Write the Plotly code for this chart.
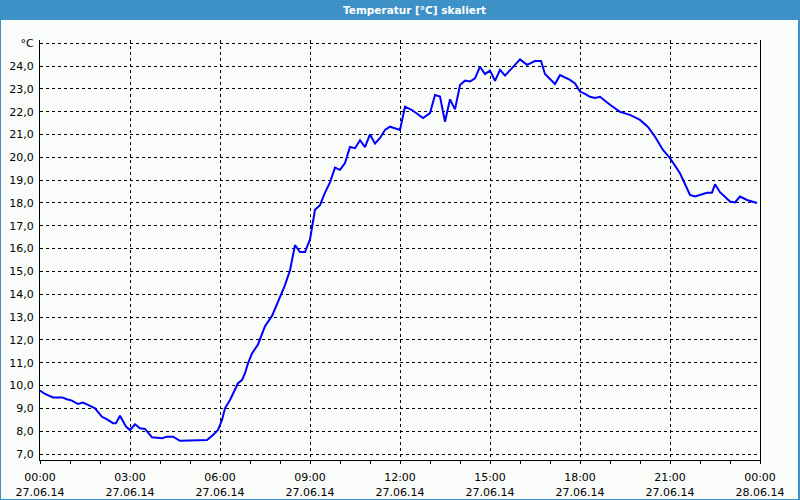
import plotly.graph_objects as go

# --- data (27.06.14) ---
times = ["00:00","00:10","00:26","00:44","00:54","01:04","01:16","01:26","01:36","01:50",
         "02:04","02:14","02:26","02:32","02:40","02:52","03:00","03:10","03:20","03:30",
         "03:44","04:04","04:14","04:26","04:40","04:54","05:20","05:34","05:46","05:56",
         "06:04","06:10","06:20","06:30","06:36","06:44","06:50","06:56","07:04","07:16",
         "07:30","07:44","07:56","08:10","08:20","08:30","08:40","08:50","09:00","09:10",
         "09:20","09:30","09:40","09:50","10:00","10:10","10:20","10:30","10:40","10:50",
         "11:00","11:10","11:20","11:30","11:40","12:00","12:10","12:24","12:46","13:00",
         "13:10","13:20","13:30","13:40","13:50","14:00","14:10","14:20","14:30","14:40",
         "14:50","15:00","15:10","15:20","15:30","15:40","15:50","16:00","16:14","16:30",
         "16:42","16:50","17:10","17:20","17:40","17:50","18:00","18:10","18:20","18:30",
         "18:40","19:00","19:20","19:40","20:00","20:16","20:30","20:46","21:00","21:20",
         "21:40","21:50","22:00","22:14","22:24","22:30","22:40","23:00","23:10","23:20",
         "23:34","23:50","23:54"]
temps = [9.78,9.63,9.48,9.48,9.40,9.34,9.19,9.25,9.15,9.00,
         8.63,8.52,8.35,8.35,8.68,8.20,8.05,8.30,8.13,8.10,
         7.73,7.69,7.76,7.76,7.58,7.58,7.61,7.61,7.83,8.05,
         8.49,9.00,9.37,9.80,10.10,10.24,10.54,10.97,11.41,11.80,
         12.60,13.05,13.65,14.40,15.05,16.15,15.85,15.85,16.40,17.70,
         17.90,18.45,18.90,19.55,19.45,19.75,20.45,20.40,20.75,20.45,
         21.00,20.60,20.85,21.20,21.34,21.20,22.22,22.07,21.72,21.94,
         22.73,22.66,21.56,22.54,22.10,23.17,23.36,23.32,23.46,23.97,
         23.65,23.80,23.35,23.83,23.58,23.80,24.05,24.29,24.05,24.22,
         24.22,23.65,23.21,23.60,23.39,23.24,22.88,22.78,22.65,22.60,
         22.65,22.30,21.99,21.86,21.64,21.33,20.90,20.32,19.96,19.30,
         18.35,18.28,18.35,18.45,18.45,18.82,18.47,18.06,18.02,18.28,
         18.13,18.03,18.00]
date = "2014-06-27"

x_tickvals = ["2014-06-27 00:00","2014-06-27 03:00","2014-06-27 06:00","2014-06-27 09:00",
              "2014-06-27 12:00","2014-06-27 15:00","2014-06-27 18:00","2014-06-27 21:00",
              "2014-06-28 00:00"]
x_ticktext = ["00:00<br>27.06.14","03:00<br>27.06.14","06:00<br>27.06.14","09:00<br>27.06.14",
              "12:00<br>27.06.14","15:00<br>27.06.14","18:00<br>27.06.14","21:00<br>27.06.14",
              "00:00<br>28.06.14"]
y_tickvals = list(range(7, 26))
y_ticktext = [f"{v},0" for v in range(7, 25)] + ["°C"]

title_text = "Temperatur [°C] skaliert"

x = [f"{date} {t}" for t in times]

BG = "#F9FCF9"
BAR = "#3D91C6"

fig = go.Figure()
fig.add_trace(go.Scatter(x=x, y=temps, mode="lines",
                         line=dict(color="#0000FF", width=2), hoverinfo="skip"))

font = dict(family="DejaVu Sans", size=11, color="#000000")

fig.update_layout(
    width=800, height=500,
    margin=dict(l=40, r=40, t=40, b=40, autoexpand=False),
    paper_bgcolor=BG, plot_bgcolor=BG,
    showlegend=False,
    font=font,
    xaxis=dict(
        type="date",
        automargin=False,
        range=["2014-06-27 00:00", "2014-06-28 00:00"],
        tickvals=x_tickvals, ticktext=x_ticktext,
        tickangle=0,
        showgrid=True, gridcolor="#000000", gridwidth=1, griddash="3px,3px",
        showline=True, linecolor="#000000", linewidth=1,
        ticks="outside", ticklen=3, tickcolor="#000000",
        ticklabelstandoff=4,
        minor=dict(dtick=3600000, ticks="outside", ticklen=3, tickcolor="#000000", showgrid=False),
        zeroline=False, mirror=False,
        tickfont=font,
    ),
    yaxis=dict(
        automargin=False,
        range=[6.737, 25.14],
        tickvals=y_tickvals, ticktext=y_ticktext,
        showgrid=True, gridcolor="#000000", gridwidth=1, griddash="3px,3px",
        showline=True, linecolor="#000000", linewidth=1, mirror=True,
        ticks="", zeroline=False,
        ticklabelstandoff=3,
        tickfont=font,
    ),
    shapes=[
        dict(type="rect", xref="paper", yref="paper",
             x0=-40/720, x1=1+40/720, y0=1+20/420, y1=1+40/420,
             fillcolor=BAR, line=dict(width=0), layer="above"),
        dict(type="line", xref="paper", yref="paper",
             x0=-39.5/720, x1=-39.5/720, y0=-40/420, y1=1+20/420,
             line=dict(color=BAR, width=1)),
        dict(type="line", xref="paper", yref="paper",
             x0=1+39/720, x1=1+39/720, y0=-40/420, y1=1+20/420,
             line=dict(color=BAR, width=2)),
        dict(type="line", xref="paper", yref="paper",
             x0=-40/720, x1=1+40/720, y0=-39.5/420, y1=-39.5/420,
             line=dict(color=BAR, width=1)),
    ],
    annotations=[
        dict(text=f"<b>{title_text}</b>", xref="paper", yref="paper",
             x=(414-40)/720, y=1+30/420, xanchor="center", yanchor="middle",
             showarrow=False, font=dict(family="DejaVu Sans", size=10.5, color="#FFFFFF")),
    ],
)

fig.write_html("out.html")
